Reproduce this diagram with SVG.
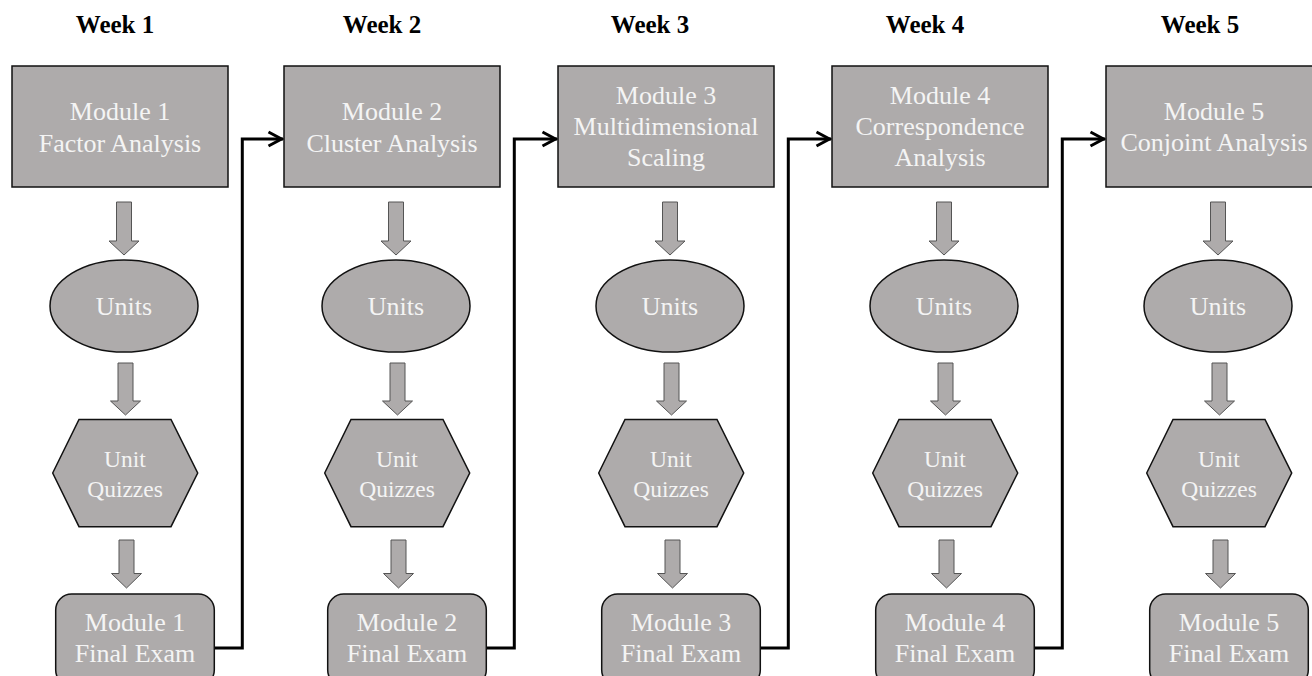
<svg xmlns="http://www.w3.org/2000/svg" width="1312" height="676" viewBox="0 0 1312 676">
<style>
.shape{fill:#aeabab;stroke:#111;stroke-width:1.5}
.barrow{fill:#aeabab;stroke:#555;stroke-width:1}
.t{fill:#f4f4f4;text-anchor:middle}
.big{font-size:26px}
.small{font-size:23.5px}
.week{font-weight:bold;font-size:25px;fill:#000;text-anchor:middle}
.conn{fill:none;stroke:#000;stroke-width:3}
</style>
<defs>
<marker id="chev" markerUnits="userSpaceOnUse" markerWidth="24" markerHeight="24" viewBox="-18 -12 24 24" refX="0" refY="0" orient="auto" overflow="visible">
<path d="M-14.5,-7 L-1.5,0 L-14.5,7" fill="none" stroke="#000" stroke-width="3"/>
</marker>
</defs>
<rect width="1312" height="676" fill="#fff"/>
<g font-family="'Liberation Serif', Tinos, 'DejaVu Serif', serif">
<g id="weeks">
<text class="week" x="115" y="33">Week 1</text>
<text class="week" x="382" y="33">Week 2</text>
<text class="week" x="650" y="33">Week 3</text>
<text class="week" x="925" y="33">Week 4</text>
<text class="week" x="1200" y="33">Week 5</text>
</g>
<g id="connectors">
<path class="conn" d="M214.3,648 H242.3 V139 H283" marker-end="url(#chev)"/>
<path class="conn" d="M486.3,648 H514.3 V139 H557" marker-end="url(#chev)"/>
<path class="conn" d="M760.3,648 H788.3 V139 H831" marker-end="url(#chev)"/>
<path class="conn" d="M1034.3,648 H1062.3 V139 H1105" marker-end="url(#chev)"/>
<path class="barrow" d="M116.5,202 H131.5 V241 H139 L124,255 L109,241 H116.5 Z"/>
<path class="barrow" d="M118,363 H133 V401 H140.5 L125.5,415 L110.5,401 H118 Z"/>
<path class="barrow" d="M119,540 H134 V573.5 H141.5 L126.5,588 L111.5,573.5 H119 Z"/>
<g transform="translate(272,0)">
<path class="barrow" d="M116.5,202 H131.5 V241 H139 L124,255 L109,241 H116.5 Z"/>
<path class="barrow" d="M118,363 H133 V401 H140.5 L125.5,415 L110.5,401 H118 Z"/>
<path class="barrow" d="M119,540 H134 V573.5 H141.5 L126.5,588 L111.5,573.5 H119 Z"/>
</g>
<g transform="translate(546,0)">
<path class="barrow" d="M116.5,202 H131.5 V241 H139 L124,255 L109,241 H116.5 Z"/>
<path class="barrow" d="M118,363 H133 V401 H140.5 L125.5,415 L110.5,401 H118 Z"/>
<path class="barrow" d="M119,540 H134 V573.5 H141.5 L126.5,588 L111.5,573.5 H119 Z"/>
</g>
<g transform="translate(820,0)">
<path class="barrow" d="M116.5,202 H131.5 V241 H139 L124,255 L109,241 H116.5 Z"/>
<path class="barrow" d="M118,363 H133 V401 H140.5 L125.5,415 L110.5,401 H118 Z"/>
<path class="barrow" d="M119,540 H134 V573.5 H141.5 L126.5,588 L111.5,573.5 H119 Z"/>
</g>
<g transform="translate(1094,0)">
<path class="barrow" d="M116.5,202 H131.5 V241 H139 L124,255 L109,241 H116.5 Z"/>
<path class="barrow" d="M118,363 H133 V401 H140.5 L125.5,415 L110.5,401 H118 Z"/>
<path class="barrow" d="M119,540 H134 V573.5 H141.5 L126.5,588 L111.5,573.5 H119 Z"/>
</g>
</g>

<g id="column1">
<g id="module1"><rect class="shape" x="12" y="66" width="216" height="121"/>
<text class="t big" x="120" y="120">Module 1</text><text class="t big" x="120" y="151.5">Factor Analysis</text></g>
<g id="units1"><ellipse class="shape" cx="124" cy="306" rx="74" ry="46"/><text class="t big" x="124" y="315">Units</text></g>
<g id="quiz1"><polygon class="shape" points="52.7,473 79,419.5 171,419.5 197.7,473 171,526.7 79,526.7"/>
<text class="t small" x="125" y="466.7">Unit</text><text class="t small" x="125" y="497">Quizzes</text></g>
<g id="exam1"><rect class="shape" x="55.7" y="594" width="158.6" height="92" rx="16"/>
<text class="t big" x="135" y="630.7">Module 1</text><text class="t big" x="135" y="661.7">Final Exam</text></g>
</g>

<g id="column2" transform="translate(272,0)">
<g id="module2"><rect class="shape" x="12" y="66" width="216" height="121"/>
<text class="t big" x="120" y="120">Module 2</text><text class="t big" x="120" y="151.5">Cluster Analysis</text></g>
<g id="units2"><ellipse class="shape" cx="124" cy="306" rx="74" ry="46"/><text class="t big" x="124" y="315">Units</text></g>
<g id="quiz2"><polygon class="shape" points="52.7,473 79,419.5 171,419.5 197.7,473 171,526.7 79,526.7"/>
<text class="t small" x="125" y="466.7">Unit</text><text class="t small" x="125" y="497">Quizzes</text></g>
<g id="exam2"><rect class="shape" x="55.7" y="594" width="158.6" height="92" rx="16"/>
<text class="t big" x="135" y="630.7">Module 2</text><text class="t big" x="135" y="661.7">Final Exam</text></g>
</g>

<g id="column3" transform="translate(546,0)">
<g id="module3"><rect class="shape" x="12" y="66" width="216" height="121"/>
<text class="t big" x="120" y="103.5">Module 3</text><text class="t big" x="120" y="134.5">Multidimensional</text><text class="t big" x="120" y="165.5">Scaling</text></g>
<g id="units3"><ellipse class="shape" cx="124" cy="306" rx="74" ry="46"/><text class="t big" x="124" y="315">Units</text></g>
<g id="quiz3"><polygon class="shape" points="52.7,473 79,419.5 171,419.5 197.7,473 171,526.7 79,526.7"/>
<text class="t small" x="125" y="466.7">Unit</text><text class="t small" x="125" y="497">Quizzes</text></g>
<g id="exam3"><rect class="shape" x="55.7" y="594" width="158.6" height="92" rx="16"/>
<text class="t big" x="135" y="630.7">Module 3</text><text class="t big" x="135" y="661.7">Final Exam</text></g>
</g>

<g id="column4" transform="translate(820,0)">
<g id="module4"><rect class="shape" x="12" y="66" width="216" height="121"/>
<text class="t big" x="120" y="103.5">Module 4</text><text class="t big" x="120" y="134.5">Correspondence</text><text class="t big" x="120" y="165.5">Analysis</text></g>
<g id="units4"><ellipse class="shape" cx="124" cy="306" rx="74" ry="46"/><text class="t big" x="124" y="315">Units</text></g>
<g id="quiz4"><polygon class="shape" points="52.7,473 79,419.5 171,419.5 197.7,473 171,526.7 79,526.7"/>
<text class="t small" x="125" y="466.7">Unit</text><text class="t small" x="125" y="497">Quizzes</text></g>
<g id="exam4"><rect class="shape" x="55.7" y="594" width="158.6" height="92" rx="16"/>
<text class="t big" x="135" y="630.7">Module 4</text><text class="t big" x="135" y="661.7">Final Exam</text></g>
</g>

<g id="column5" transform="translate(1094,0)">
<g id="module5"><rect class="shape" x="12" y="66" width="216" height="121"/>
<text class="t big" x="120" y="119.5">Module 5</text><text class="t big" x="120" y="150.5">Conjoint Analysis</text></g>
<g id="units5"><ellipse class="shape" cx="124" cy="306" rx="74" ry="46"/><text class="t big" x="124" y="315">Units</text></g>
<g id="quiz5"><polygon class="shape" points="52.7,473 79,419.5 171,419.5 197.7,473 171,526.7 79,526.7"/>
<text class="t small" x="125" y="466.7">Unit</text><text class="t small" x="125" y="497">Quizzes</text></g>
<g id="exam5"><rect class="shape" x="55.7" y="594" width="158.6" height="92" rx="16"/>
<text class="t big" x="135" y="630.7">Module 5</text><text class="t big" x="135" y="661.7">Final Exam</text></g>
</g>
</g>
</svg>
